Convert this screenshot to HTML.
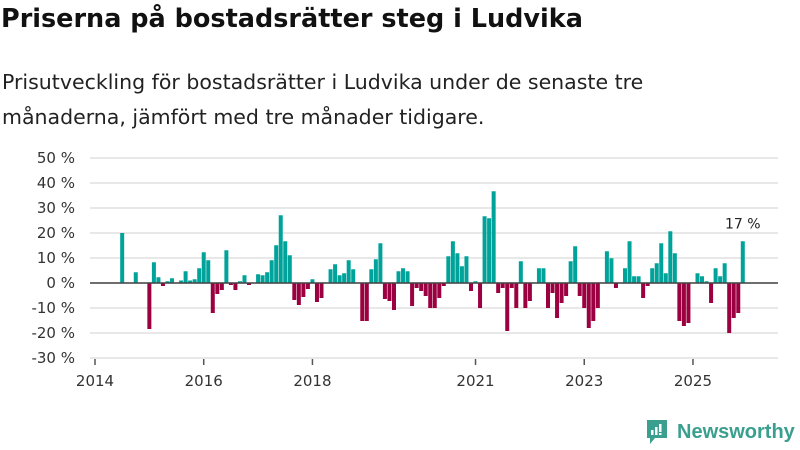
<!DOCTYPE html>
<html><head><meta charset="utf-8">
<style>
body{margin:0;background:#fff;width:800px;height:450px;overflow:hidden;font-family:"Liberation Sans",sans-serif;color:#111}
#title{position:absolute;left:1px;top:4px;font-size:25.5px;font-weight:bold;margin:0;font-family:"DejaVu Sans",sans-serif;letter-spacing:0px}
#sub{position:absolute;left:2px;top:65px;font-size:20.5px;line-height:35px;color:#222;margin:0;font-family:"DejaVu Sans",sans-serif;letter-spacing:0px}
svg{position:absolute;left:0;top:0}
#logo{position:absolute;left:645px;top:418px;display:flex;align-items:center}
#logo span{font-size:20px;font-weight:bold;color:#3a9f8f;margin-left:8px}
</style></head><body>
<h1 id="title">Priserna på bostadsrätter steg i Ludvika</h1>
<p id="sub">Prisutveckling för bostadsrätter i Ludvika under de senaste tre<br>månaderna, jämfört med tre månader tidigare.</p>
<svg id="chart" width="800" height="450"></svg>
<div id="logo">
<svg width="24" height="28" viewBox="0 0 24 28" style="position:static"><path d="M2 2h20v18H10l-5 6v-6H2z" fill="#3a9f8f"/><rect x="6" y="12" width="2.5" height="5" fill="#fff"/><rect x="10" y="9" width="2.5" height="8" fill="#fff"/><rect x="14" y="6" width="2.5" height="8" fill="#fff"/><rect x="14" y="15" width="2.5" height="2" fill="#fff"/></svg>
<span>Newsworthy</span></div>
<script>
// month index since 2014-01
const monthIdx=[6,9,12,13,14,15,16,17,19,20,21,22,23,24,25,26,27,28,29,30,31,32,33,34,36,37,38,39,40,41,42,43,44,45,46,47,48,49,50,52,53,54,55,56,57,59,60,61,62,63,64,65,66,67,68,69,70,71,72,73,74,75,76,77,78,79,80,81,82,83,84,85,86,87,88,89,90,91,92,93,94,95,96,98,99,100,101,102,103,104,105,106,107,108,109,110,111,113,114,115,117,118,119,120,121,122,123,124,125,126,127,128,129,130,131,133,134,135,136,137,138,139,140,141,142,143];
const values=[20,4.3,-18.4,8.3,2.3,-1.2,0.7,1.9,1,4.7,1,1.5,5.9,12.3,9.1,-12,-4.4,-2.8,13.1,-0.8,-2.8,0.7,3.1,-0.8,3.5,3.1,4.3,9.1,15.1,27.1,16.7,11.1,-6.8,-8.8,-5.6,-2.4,1.5,-7.6,-6,5.5,7.5,3.1,3.9,9.1,5.5,-15.2,-15.2,5.5,9.5,15.9,-6.4,-7.2,-10.8,4.7,5.9,4.7,-9.2,-2,-3.2,-5.2,-10,-10,-6,-1.2,10.7,16.7,11.9,6.7,10.7,-3.2,0.7,-10,26.7,25.9,36.7,-4,-2,-19.2,-2,-10,8.7,-10,-7.2,5.9,5.9,-10,-4,-14,-8,-5.2,8.7,14.7,-5.2,-10,-18,-15.2,-10,12.7,9.9,-2,5.9,16.7,2.7,2.7,-6,-1.2,5.9,7.9,15.9,3.9,20.7,11.9,-15.2,-17.2,-16,3.9,2.7,0.7,-8,5.9,2.7,7.9,-20,-14,-12,16.7];
const yTicks=[-30,-20,-10,0,10,20,30,40,50];
const xTickYears=[2014,2016,2018,2021,2023,2025];
const lastLabel="17 %";
const NS="http://www.w3.org/2000/svg";
const svg=document.getElementById('chart');
const x0=95,pxPerMonth=4.53;
const xS=m=>x0+m*pxPerMonth;
const yS=v=>283-v*2.5;
function el(t,a){const e=document.createElementNS(NS,t);for(const k in a)e.setAttribute(k,a[k]);svg.appendChild(e);return e;}
yTicks.forEach(v=>{
 const g=el('line',{x1:90,x2:778,y1:yS(v),y2:yS(v),stroke:'#e0e0e0','stroke-width':1.5});
 
 
 const t=el('text',{x:75,y:yS(v)+5,'text-anchor':'end','font-size':15,fill:'#333','font-family':'DejaVu Sans, sans-serif'});
 t.textContent=v+' %';
 
 
});
xTickYears.forEach(y=>{
 const x=xS((y-2014)*12);
 const tk=el('line',{x1:x,x2:x,y1:359,y2:365,stroke:'#555','stroke-width':1.5});
 
 
 const t=el('text',{x:x,y:386,'text-anchor':'middle','font-size':15,fill:'#333','font-family':'DejaVu Sans, sans-serif'});
 t.textContent=y;
 
 
});
monthIdx.forEach((m,i)=>{
 const v=values[i];const x=xS(m);
 const r=el('rect',{x:x-2,y:Math.min(yS(v),yS(0)),width:4,height:Math.abs(yS(v)-yS(0)),fill:v>=0?'#00a39a':'#9b0040'});
 
 
});
const z=el('line',{x1:90,x2:778,y1:yS(0),y2:yS(0),stroke:'#444','stroke-width':1.5});


const li=monthIdx.length-1;
const lt=el('text',{x:xS(monthIdx[li]),y:yS(values[li])-13,'text-anchor':'middle','font-size':14,fill:'#222','font-family':'DejaVu Sans, sans-serif'});
lt.textContent=lastLabel;


</script>
</body></html>
